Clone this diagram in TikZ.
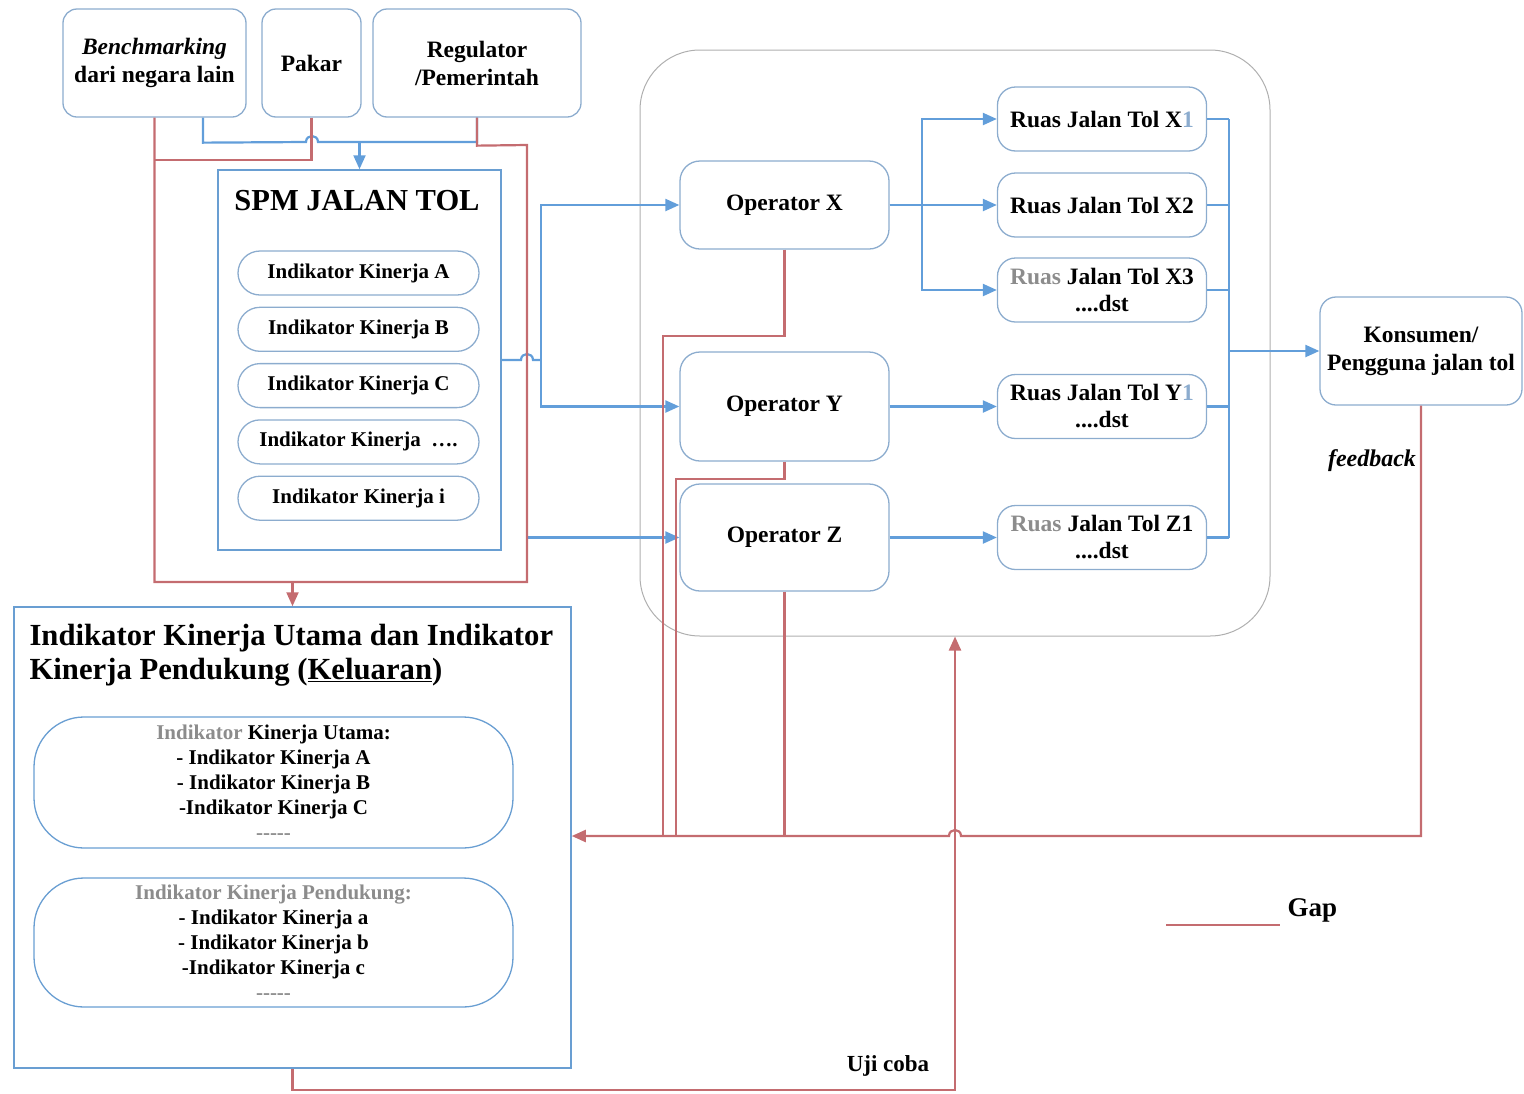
\documentclass[tikz,border=0pt]{standalone}
\usepackage{fontspec}
\setmainfont{Liberation Serif}
\usepackage{tikz}
\usetikzlibrary{arrows.meta,positioning,calc}
\definecolor{biru}{RGB}{98,158,218}
\definecolor{tepi}{RGB}{140,172,206}
\definecolor{tepiB}{RGB}{105,158,210}
\definecolor{merah}{RGB}{196,108,112}
\definecolor{abu}{RGB}{140,140,140}
\newcommand{\uk}[2]{\fontsize{#1}{#2}\selectfont}
\newcommand{\abu}[1]{\textcolor{abu}{#1}}
\newcommand{\strip}{\abu{-{}-{}-{}-{}-}}
\tikzset{
  kotak/.style={rectangle, rounded corners=#1, draw=tepi, line width=1.3pt, align=center,
                font=\bfseries\uk{23.5}{28}, inner sep=2pt},
  pil/.style={kotak=22pt, minimum width=241pt, minimum height=44pt, font=\bfseries\uk{21}{24}},
  ruas/.style={kotak=18pt, minimum width=209pt, minimum height=64pt, font=\bfseries\uk{23.5}{27}},
  garisB/.style={line width=2.2pt, draw=biru},
  garisM/.style={line width=2.2pt, draw=merah},
  panahB/.style={garisB, -{Triangle[length=14pt,width=12pt]}},
  panahM/.style={garisM, -{Triangle[length=14pt,width=12pt]}},
}

\begin{document}
\begin{tikzpicture}[x=1pt, y=-1pt, node distance=11pt]
  \useasboundingbox (0,0) rectangle (1524,1093);
  % sumber masukan
  \node[kotak=14pt, minimum width=183pt, minimum height=108pt] (bench) at (154.5,63) {\textit{Benchmarking}\\dari negara lain};
  \node[kotak=14pt, minimum width=99pt, minimum height=108pt] (pakar) at (311.5,63) {Pakar};
  \node[kotak=14pt, minimum width=208pt, minimum height=108pt] (regul) at (477,63) {Regulator\\/Pemerintah};
  % SPM
  \node[draw=tepiB, line width=1.5pt, minimum width=283pt, minimum height=380pt] (spm) at (359.5,360) {};
  \node[font=\bfseries\uk{30.5}{34}] (judul) at (357,201) {SPM JALAN TOL};
  \node[pil] (ika) at (358.5,273) {Indikator Kinerja A};
  \node[pil, below=of ika] (ikb) {Indikator Kinerja B};
  \node[pil, below=of ikb] (ikc) {Indikator Kinerja C};
  \node[pil, below=of ikc] (ikd) {Indikator Kinerja \ \ldots.};
  \node[pil, below=of ikd] (iki) {Indikator Kinerja i};
  % keluaran
  \node[draw=tepiB, line width=1.5pt, minimum width=557pt, minimum height=461pt] (kel) at (292.5,837.5) {};
  \node[anchor=north west, align=left, font=\bfseries\uk{30.7}{34}] (keljudul) at (26,621) {Indikator Kinerja Utama dan Indikator\\Kinerja Pendukung (\underline{Keluaran})};
  \node[kotak=50pt, draw=tepiB, minimum width=479pt, minimum height=131pt, font=\bfseries\uk{21}{25}] (utama) at (273.5,782.5)
    {\abu{Indikator} Kinerja Utama:\\- Indikator Kinerja A\\- Indikator Kinerja B\\-Indikator Kinerja C\\\strip};
  \node[kotak=50pt, draw=tepiB, minimum width=479pt, minimum height=129pt, font=\bfseries\uk{21}{25}] (dukung) at (273.5,942.5)
    {\abu{Indikator Kinerja Pendukung:}\\- Indikator Kinerja a\\- Indikator Kinerja b\\-Indikator Kinerja c\\\strip};
  % operator dan ruas
  \node[draw=abu!70, line width=1pt, rounded corners=60pt, minimum width=630pt, minimum height=586pt] (wadah) at (955,343) {};
  \node[kotak=20pt, minimum width=209pt, minimum height=88pt] (opx) at (784.5,205) {Operator X};
  \node[kotak=20pt, minimum width=209pt, minimum height=109pt] (opy) at (784.5,406.5) {Operator Y};
  \node[kotak=20pt, minimum width=209pt, minimum height=107pt] (opz) at (784.5,537.5) {Operator Z};
  \node[ruas] (rx1) at (1102,119) {Ruas Jalan Tol X\textcolor{tepi}{1}};
  \node[ruas] (rx2) at (1102,205) {Ruas Jalan Tol X2};
  \node[ruas] (rx3) at (1102,290) {\abu{Ruas} Jalan Tol X3\\....dst};
  \node[ruas] (ry1) at (1102,406.5) {Ruas Jalan Tol Y\textcolor{tepi}{1}\\....dst};
  \node[ruas] (rz1) at (1102,537.5) {\abu{Ruas} Jalan Tol Z1\\....dst};
  \node[kotak=16pt, minimum width=202pt, minimum height=108pt] (kons) at (1421,351) {Konsumen/\\Pengguna jalan tol};
  % label
  \node[font=\bfseries\itshape\uk{24}{28}] (fb) at (1372,461) {feedback};
  \node[font=\bfseries\uk{23}{26}] (uji) at (888,1066) {Uji coba};
  \coordinate (g1) at (1166,925); \coordinate (g2) at (1280,925);
  \node[font=\bfseries\uk{27}{30}, anchor=west] (gap) at (1284,910) {Gap};
  \coordinate (simpul) at (spm.north |- 0,142);
  \coordinate (cabY) at (541,360);
  \coordinate (cabZ) at (527,537.5);
  \coordinate (cabX) at (922,205);

  % garis biru
  \draw[garisB] ([xshift=48.5pt]bench.south) -- ++(0,25) -- (306,142) .. controls (306,134) and (318,134) .. (318,142) -- (regul.south |- 0,142) -- (regul.south);
  \draw[panahB] (simpul) -- (spm.north);
  \draw[garisB] (spm.east |- 0,360) -- (521,360) .. controls (521,352) and (533,352) .. (533,360) -- (cabY);
  \draw[panahB] (cabY) |- (opx.west);
  \draw[panahB] (cabY) |- (opy.west);
  \draw[panahB] (cabZ) -- (opz.west);
  \draw[garisB] (opx.east) -- (cabX);
  \draw[panahB] (cabX) |- (rx1.west);
  \draw[panahB] (opx.east) -- (rx2.west);
  \draw[panahB] (cabX) |- (rx3.west);
  \draw[panahB] (opy.east) -- (ry1.west);
  \draw[panahB] (opz.east) -- (rz1.west);
  \foreach \r in {rx1,rx2,rx3,ry1,rz1} \draw[garisB] (\r.east) -- (\r.east -| 1229,0);
  \draw[garisB] (rx1.east -| 1229,0) -- (rz1.east -| 1229,0);
  \draw[panahB] (kons.west -| 1229,0) -- (kons.west);

  % garis merah
  \draw[garisM] (regul.south) -- ++(0,28) -- (527,145) -- (527,582) -- (bench.south |- 0,582) -- (bench.south);
  \draw[garisM] (pakar.south) |- (bench.south |- 0,160);
  \draw[panahM] (kel.north |- 0,582) -- (kel.north);
  \draw[garisM] (opx.south) -- (784.5,336) -- (663,336) -- (663,836);
  \draw[garisM] (opy.south) -- (784.5,479) -- (676,479) -- (676,836);
  \draw[garisM] (opz.south) -- (784.5,836);
  \draw[panahM] (kons.south) |- (961,836) .. controls (961,828) and (949,828) .. (949,836) -- (kel.east |- 0,836);
  \draw[panahM] (kel.south) -- (292.5,1090) -- (955,1090) -- (wadah.south);
  \draw[garisM] (g1) -- (g2);
\end{tikzpicture}
\end{document}
